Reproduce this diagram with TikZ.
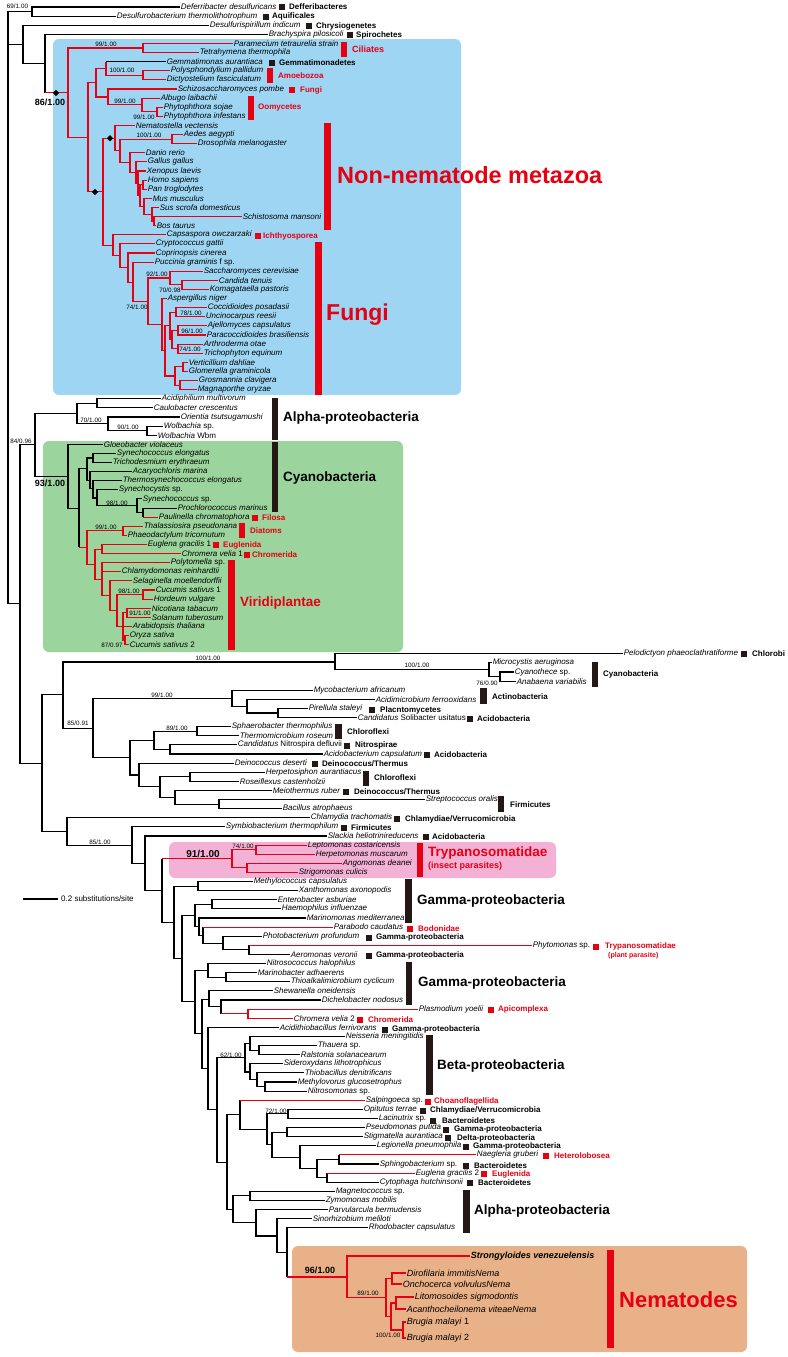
\documentclass[tikz,border=0pt]{standalone}
\usepackage{fontspec}
\setmainfont{Liberation Sans}
\usepackage{tikz}
\usetikzlibrary{shapes.geometric}

\definecolor{tred}{HTML}{E60012}
\definecolor{tblk}{HTML}{231815}
\definecolor{boxblue}{HTML}{9DD5F3}
\definecolor{boxgreen}{HTML}{9BD49C}
\definecolor{boxpink}{HTML}{F4B1D6}
\definecolor{boxtan}{HTML}{E9B187}

% black stem, red branch
\newcommand\rlink[2]{\draw[branch] (#1) -- (#1 |- #2); \draw[rbranch] (#1 |- #2) -- (#2);}

\begin{document}
\begin{tikzpicture}[
    x=1pt, y=-1pt,
    declare function={ly(\k)=7+9.11*\k;},
    branch/.style={draw=black, line width=1.1pt},
    rbranch/.style={draw=tred, line width=1.1pt},
    leaf/.style={anchor=west, inner sep=0.6pt, font=\fontsize{8}{9}\selectfont\itshape},
    nleaf/.style={leaf, font=\fontsize{9}{10}\selectfont\itshape},
    grp/.style={anchor=west, inner sep=0pt, font=\fontsize{8}{9}\selectfont\bfseries},
    rgrp/.style={grp, text=tred},
    clade/.style={anchor=west, inner sep=0pt, font=\fontsize{13.5}{15}\selectfont\bfseries},
    sq/.style={fill=tblk, minimum size=6pt, inner sep=0pt},
    rsq/.style={sq, fill=tred},
    boot/.style={inner sep=0pt, font=\fontsize{6.3}{7}\selectfont},
    bboot/.style={inner sep=0pt, font=\fontsize{9}{10}\selectfont\bfseries},
    dmd/.style={diamond, fill=black, inner sep=0pt, minimum size=6.5pt},
    panel/.style={rounded corners=6pt}
  ]
  \useasboundingbox (0,0) rectangle (787,1357);

  % shaded panels
  \fill[boxblue, panel] (53,39) rectangle (461,395);
  \fill[boxgreen, panel] (43,441) rectangle (403,652);
  \fill[boxpink, panel] (169,842) rectangle (556,878);
  \fill[boxtan, panel] (292,1246) rectangle (747,1352);

  % ---------- leaves ----------
  \node[leaf] (defe) at (180,{ly(0)}) {Deferribacter desulfuricans};
  \node[leaf] (dsrb) at (116,{ly(1)}) {Desulfurobacterium thermolithotrophum};
  \node[leaf] (dsrs) at (209,{ly(2)}) {Desulfurispirillum indicum};
  \node[leaf] (brac) at (268,{ly(3)}) {Brachyspira pilosicoli};
  \node[leaf] (para) at (233,{ly(4)}) {Paramecium tetraurelia strain};
  \node[leaf] (tetr) at (199,{ly(5)}) {Tetrahymena thermophila};
  \node[leaf] (gemm) at (166,{ly(6)}) {Gemmatimonas aurantiaca};
  \node[leaf] (poly) at (170,{ly(7)}) {Polysphondylium pallidum};
  \node[leaf] (dict) at (166,{ly(8)}) {Dictyostelium fasciculatum};
  \node[leaf] (schi) at (177,{ly(9)}) {Schizosaccharomyces pombe};
  \node[leaf] (albu) at (160,{ly(10)}) {Albugo laibachii};
  \node[leaf] (psoj) at (163,{ly(11)}) {Phytophthora sojae};
  \node[leaf] (pinf) at (163,{ly(12)}) {Phytophthora infestans};
  \node[leaf] (nema) at (135,{ly(13)}) {Nematostella vectensis};
  \node[leaf] (aede) at (183,{ly(14)}) {Aedes aegypti};
  \node[leaf] (dros) at (197,{ly(15)}) {Drosophila melanogaster};
  \node[leaf] (dani) at (145,{ly(16)}) {Danio rerio};
  \node[leaf] (gall) at (147,{ly(17)}) {Gallus gallus};
  \node[leaf] (xeno) at (146,{ly(18)}) {Xenopus laevis};
  \node[leaf] (homo) at (147,{ly(19)}) {Homo sapiens};
  \node[leaf] (pant) at (147,{ly(20)}) {Pan troglodytes};
  \node[leaf] (musm) at (152,{ly(21)}) {Mus musculus};
  \node[leaf] (suss) at (159,{ly(22)}) {Sus scrofa domesticus};
  \node[leaf] (schm) at (242,{ly(23)}) {Schistosoma mansoni};
  \node[leaf] (bost) at (156,{ly(24)}) {Bos taurus};
  \node[leaf] (caps) at (166,{ly(25)}) {Capsaspora owczarzaki};
  \node[leaf] (cryp) at (155,{ly(26)}) {Cryptococcus gattii};
  \node[leaf] (copr) at (155,{ly(27)}) {Coprinopsis cinerea};
  \node[leaf] (pucc) at (154,{ly(28)}) {Puccinia graminis \textup{f sp.}};
  \node[leaf] (sacc) at (203,{ly(29)}) {Saccharomyces cerevisiae};
  \node[leaf] (cand) at (218,{ly(30)}) {Candida tenuis};
  \node[leaf] (koma) at (209,{ly(31)}) {Komagataella pastoris};
  \node[leaf] (aspe) at (167,{ly(32)}) {Aspergillus niger};
  \node[leaf] (cocc) at (207,{ly(33)}) {Coccidioides posadasii};
  \node[leaf] (unci) at (205,{ly(34)}) {Uncinocarpus reesii};
  \node[leaf] (ajel) at (207,{ly(35)}) {Ajellomyces capsulatus};
  \node[leaf] (parc) at (206,{ly(36)}) {Paracoccidioides brasiliensis};
  \node[leaf] (arth) at (203,{ly(37)}) {Arthroderma otae};
  \node[leaf] (tric) at (203,{ly(38)}) {Trichophyton equinum};
  \node[leaf] (vert) at (188,{ly(39)}) {Verticillium dahliae};
  \node[leaf] (glom) at (188,{ly(40)}) {Glomerella graminicola};
  \node[leaf] (gros) at (198,{ly(41)}) {Grosmannia clavigera};
  \node[leaf] (magn) at (197,{ly(42)}) {Magnaporthe oryzae};
  \node[leaf] (acdp) at (161,{ly(43)}) {Acidiphilium multivorum};
  \node[leaf] (caul) at (153,{ly(44)}) {Caulobacter crescentus};
  \node[leaf] (orie) at (180,{ly(45)}) {Orientia tsutsugamushi};
  \node[leaf] (wolb) at (163,{ly(46)}) {Wolbachia \textup{sp.}};
  \node[leaf] (wolw) at (157,{ly(47)}) {Wolbachia \textup{Wbm}};
  \node[leaf] (gloe) at (103,{ly(48)}) {Gloeobacter violaceus};
  \node[leaf] (syel) at (116,{ly(49)}) {Synechococcus elongatus};
  \node[leaf] (tris) at (112,{ly(50)}) {Trichodesmium erythraeum};
  \node[leaf] (acar) at (132,{ly(51)}) {Acaryochloris marina};
  \node[leaf] (ther) at (122,{ly(52)}) {Thermosynechococcus elongatus};
  \node[leaf] (sycy) at (118,{ly(53)}) {Synechocystis \textup{sp.}};
  \node[leaf] (sysp) at (142,{ly(54)}) {Synechococcus \textup{sp.}};
  \node[leaf] (proc) at (177,{ly(55)}) {Prochlorococcus marinus};
  \node[leaf] (paul) at (158,{ly(56)}) {Paulinella chromatophora};
  \node[leaf] (thal) at (143,{ly(57)}) {Thalassiosira pseudonana};
  \node[leaf] (phae) at (127,{ly(58)}) {Phaeodactylum tricornutum};
  \node[leaf] (eug1) at (147,{ly(59)}) {Euglena gracilis \textup{1}};
  \node[leaf] (chr1) at (181,{ly(60)}) {Chromera velia \textup{1}};
  \node[leaf] (plyt) at (170,{ly(61)}) {Polytomella \textup{sp.}};
  \node[leaf] (chla) at (121,{ly(62)}) {Chlamydomonas reinhardtii};
  \node[leaf] (sela) at (132,{ly(63)}) {Selaginella moellendorffii};
  \node[leaf] (cuc1) at (155,{ly(64)}) {Cucumis sativus \textup{1}};
  \node[leaf] (hord) at (153,{ly(65)}) {Hordeum vulgare};
  \node[leaf] (nico) at (151,{ly(66)}) {Nicotiana tabacum};
  \node[leaf] (sola) at (151,{ly(67)}) {Solanum tuberosum};
  \node[leaf] (arab) at (132,{ly(68)}) {Arabidopsis thaliana};
  \node[leaf] (oryz) at (129,{ly(69)}) {Oryza sativa};
  \node[leaf] (cuc2) at (129,{ly(70)}) {Cucumis sativus \textup{2}};
  \node[leaf] (pelo) at (623,{ly(71)}) {Pelodictyon phaeoclathratiforme};
  \node[leaf] (micr) at (492,{ly(72)}) {Microcystis aeruginosa};
  \node[leaf] (cyth) at (514,{ly(73)}) {Cyanothece \textup{sp.}};
  \node[leaf] (anab) at (516,{ly(74)}) {Anabaena variabilis};
  \node[leaf] (myco) at (313,{ly(75)}) {Mycobacterium africanum};
  \node[leaf] (acdm) at (375,{ly(76)}) {Acidimicrobium ferrooxidans};
  \node[leaf] (pire) at (308,{ly(77)}) {Pirellula staleyi};
  \node[leaf] (soli) at (357,{ly(78)}) {Candidatus \textup{Solibacter usitatus}};
  \node[leaf] (spha) at (231,{ly(79)}) {Sphaerobacter thermophilus};
  \node[leaf] (thmi) at (239,{ly(80)}) {Thermomicrobium roseum};
  \node[leaf] (nitr) at (237,{ly(81)}) {Candidatus \textup{Nitrospira defluvii}};
  \node[leaf] (acbc) at (323,{ly(82)}) {Acidobacterium capsulatum};
  \node[leaf] (dein) at (234,{ly(83)}) {Deinococcus deserti};
  \node[leaf] (herp) at (265,{ly(84)}) {Herpetosiphon aurantiacus};
  \node[leaf] (rose) at (239,{ly(85)}) {Roseiflexus castenholzii};
  \node[leaf] (meio) at (272,{ly(86)}) {Meiothermus ruber};
  \node[leaf] (stre) at (425,{ly(87)}) {Streptococcus oralis};
  \node[leaf] (baci) at (282,{ly(88)}) {Bacillus atrophaeus};
  \node[leaf] (chlt) at (310,{ly(89)}) {Chlamydia trachomatis};
  \node[leaf] (symb) at (225,{ly(90)}) {Symbiobacterium thermophilum};
  \node[leaf] (slac) at (327,{ly(91)}) {Slackia heliotrinireducens};
  \node[leaf] (lept) at (307,{ly(92)}) {Leptomonas costaricensis};
  \node[leaf] (hrpm) at (315,{ly(93)}) {Herpetomonas muscarum};
  \node[leaf] (ango) at (342,{ly(94)}) {Angomonas deanei};
  \node[leaf] (stri) at (298,{ly(95)}) {Strigomonas culicis};
  \node[leaf] (mtcc) at (253,{ly(96)}) {Methylococcus capsulatus};
  \node[leaf] (xant) at (298,{ly(97)}) {Xanthomonas axonopodis};
  \node[leaf] (ente) at (277,{ly(98)}) {Enterobacter asburiae};
  \node[leaf] (haem) at (281,{ly(99)}) {Haemophilus influenzae};
  \node[leaf] (mari) at (306,{ly(100)}) {Marinomonas mediterranea};
  \node[leaf] (parb) at (333,{ly(101)}) {Parabodo caudatus};
  \node[leaf] (phot) at (262,{ly(102)}) {Photobacterium profundum};
  \node[leaf] (phyt) at (532,{ly(103)}) {Phytomonas \textup{sp.}};
  \node[leaf] (aero) at (290,{ly(104)}) {Aeromonas veronii};
  \node[leaf] (ntcc) at (266,{ly(105)}) {Nitrosococcus halophilus};
  \node[leaf] (mrnb) at (257,{ly(106)}) {Marinobacter adhaerens};
  \node[leaf] (thio) at (290,{ly(107)}) {Thioalkalimicrobium cyclicum};
  \node[leaf] (shew) at (273,{ly(108)}) {Shewanella oneidensis};
  \node[leaf] (dich) at (321,{ly(109)}) {Dichelobacter nodosus};
  \node[leaf] (plas) at (418,{ly(110)}) {Plasmodium yoelii};
  \node[leaf] (chr2) at (293,{ly(111)}) {Chromera velia \textup{2}};
  \node[leaf] (acth) at (279,{ly(112)}) {Acidithiobacillus ferrivorans};
  \node[leaf] (neis) at (345,{ly(113)}) {Neisseria meningitidis};
  \node[leaf] (thau) at (317,{ly(114)}) {Thauera \textup{sp.}};
  \node[leaf] (rals) at (300,{ly(115)}) {Ralstonia solanacearum};
  \node[leaf] (side) at (283,{ly(116)}) {Sideroxydans lithotrophicus};
  \node[leaf] (thbc) at (304,{ly(117)}) {Thiobacillus denitrificans};
  \node[leaf] (mtvr) at (297,{ly(118)}) {Methylovorus glucosetrophus};
  \node[leaf] (ntsm) at (307,{ly(119)}) {Nitrosomonas \textup{sp.}};
  \node[leaf] (salp) at (365,{ly(120)}) {Salpingoeca \textup{sp.}};
  \node[leaf] (opit) at (363,{ly(121)}) {Opitutus terrae};
  \node[leaf] (laci) at (378,{ly(122)}) {Lacinutrix \textup{sp.}};
  \node[leaf] (pseu) at (365,{ly(123)}) {Pseudomonas putida};
  \node[leaf] (stig) at (363,{ly(124)}) {Stigmatella aurantiaca};
  \node[leaf] (legi) at (376,{ly(125)}) {Legionella pneumophila};
  \node[leaf] (naeg) at (476,{ly(126)}) {Naegleria gruberi};
  \node[leaf] (sphi) at (379,{ly(127)}) {Sphingobacterium \textup{sp.}};
  \node[leaf] (eug2) at (415,{ly(128)}) {Euglena gracilis \textup{2}};
  \node[leaf] (cyto) at (379,{ly(129)}) {Cytophaga hutchinsonii};
  \node[leaf] (magt) at (335,{ly(130)}) {Magnetococcus \textup{sp.}};
  \node[leaf] (zymo) at (325,{ly(131)}) {Zymomonas mobilis};
  \node[leaf] (parv) at (328,{ly(132)}) {Parvularcula bermudensis};
  \node[leaf] (sino) at (312,{ly(133)}) {Sinorhizobium meliloti};
  \node[leaf] (rhod) at (368,{ly(134)}) {Rhodobacter capsulatus};
  \node[nleaf, font=\fontsize{9}{10}\selectfont\bfseries\itshape] (stro) at (470,1256) {Strongyloides venezuelensis};
  \node[nleaf] (diro) at (406,1273) {Dirofilaria immitisNema};
  \node[nleaf] (onch) at (402,1284) {Onchocerca volvulusNema};
  \node[nleaf] (lito) at (414,1297) {Litomosoides sigmodontis};
  \node[nleaf] (acan) at (406,1309) {Acanthocheilonema viteaeNema};
  \node[nleaf] (bru1) at (406,1322) {Brugia malayi \textup{1}};
  \node[nleaf] (bru2) at (406,1338) {Brugia malayi \textup{2}};

  % ---------- internal nodes ----------
  \coordinate (root) at (8,{ly(30)});
  \coordinate (nA) at (32,{ly(0.5)});
  \coordinate (n23) at (23,{ly(4.1)});
  \coordinate (n45) at (45,{ly(6.2)});
  \coordinate (n20) at (20,{ly(65.5)});
  \coordinate (R) at (68,{ly(9.4)});
  \coordinate (cil) at (143,{ly(4.5)});
  \coordinate (B) at (88,{ly(14.3)});
  \coordinate (C) at (96,{ly(8.3)});
  \coordinate (n106) at (106,{ly(6.75)});
  \coordinate (amo) at (143,{ly(7.5)});
  \coordinate (n108) at (108,{ly(9.875)});
  \coordinate (oom) at (142,{ly(10.75)});
  \coordinate (phy) at (157,{ly(11.5)});
  \coordinate (D) at (103,{ly(20.3)});
  \coordinate (M) at (115,{ly(14.4)});
  \coordinate (n120) at (120,{ly(15.8)});
  \coordinate (ad) at (172,{ly(14.5)});
  \coordinate (v130) at (130,{ly(17.09)});
  \coordinate (v136) at (136,{ly(18.17)});
  \coordinate (v138) at (138,{ly(19.34)});
  \coordinate (v140) at (140,{ly(20.69)});
  \coordinate (hp) at (143,{ly(19.5)});
  \coordinate (v144) at (144,{ly(21.875)});
  \coordinate (v152) at (152,{ly(22.75)});
  \coordinate (v154) at (154,{ly(23.5)});
  \coordinate (F) at (113,{ly(26.15)});
  \coordinate (f120) at (120,{ly(27.3)});
  \coordinate (f128) at (128,{ly(28.6)});
  \coordinate (f133) at (133,{ly(30.2)});
  \coordinate (f148) at (148,{ly(32.3)});
  \coordinate (sac) at (170,{ly(29.75)});
  \coordinate (ck) at (182,{ly(30.5)});
  \coordinate (f162) at (162,{ly(34.9)});
  \coordinate (f165) at (165,{ly(37.75)});
  \coordinate (e1) at (170,{ly(35)});
  \coordinate (c78) at (176,{ly(33.5)});
  \coordinate (e2) at (172,{ly(36.5)});
  \coordinate (c96) at (178,{ly(35.5)});
  \coordinate (c74) at (178,{ly(37.5)});
  \coordinate (srd) at (175,{ly(40.5)});
  \coordinate (vg) at (183,{ly(39.5)});
  \coordinate (gm) at (180,{ly(41.5)});
  \coordinate (n35) at (35,{ly(48.05)});
  \coordinate (al) at (77,{ly(44.6)});
  \coordinate (ac) at (97,{ly(43.5)});
  \coordinate (ow) at (108,{ly(45.75)});
  \coordinate (wo) at (147,{ly(46.5)});
  \coordinate (cy) at (68,{ly(51.5)});
  \coordinate (c79) at (79,{ly(55)});
  \coordinate (K) at (87,{ly(50.7)});
  \coordinate (se) at (93,{ly(49.5)});
  \coordinate (k2) at (90,{ly(52)});
  \coordinate (k3) at (93,{ly(52.9)});
  \coordinate (k4) at (97,{ly(53.9)});
  \coordinate (k5) at (137,{ly(54.75)});
  \coordinate (pp) at (143,{ly(55.5)});
  \coordinate (P) at (87,{ly(59.3)});
  \coordinate (dia) at (123,{ly(57.5)});
  \coordinate (ecv) at (95,{ly(61.2)});
  \coordinate (ec) at (102,{ly(59.5)});
  \coordinate (V) at (102,{ly(62.8)});
  \coordinate (v2) at (110,{ly(64.6)});
  \coordinate (v3) at (117,{ly(66.25)});
  \coordinate (ch) at (143,{ly(64.5)});
  \coordinate (v4) at (123,{ly(68)});
  \coordinate (ns) at (127,{ly(66.5)});
  \coordinate (oc) at (125,{ly(69.5)});
  \coordinate (n42) at (42,{ly(83)});
  \coordinate (n63) at (63,{ly(75.5)});
  \coordinate (chl) at (335,{ly(71.9)});
  \coordinate (cyn) at (489,{ly(72.75)});
  \coordinate (ca) at (500,{ly(73.5)});
  \coordinate (n93) at (93,{ly(79.15)});
  \coordinate (act) at (232,{ly(75.9)});
  \coordinate (a247) at (247,{ly(76.75)});
  \coordinate (ps) at (278,{ly(77.5)});
  \coordinate (w130) at (130,{ly(82.4)});
  \coordinate (cn) at (154,{ly(80.5)});
  \coordinate (c89) at (197,{ly(79.5)});
  \coordinate (na) at (170,{ly(81.5)});
  \coordinate (dt) at (139,{ly(84.3)});
  \coordinate (hr) at (160,{ly(85.6)});
  \coordinate (hr2) at (190,{ly(84.5)});
  \coordinate (mb) at (175,{ly(86.75)});
  \coordinate (sb) at (219,{ly(87.5)});
  \coordinate (n67) at (67,{ly(90.5)});
  \coordinate (n132) at (132,{ly(92)});
  \coordinate (n145) at (145,{ly(94)});
  \coordinate (n162) at (162,{ly(97)});
  \coordinate (tr) at (232,{ly(93.5)});
  \coordinate (t256) at (256,{ly(92.5)});
  \coordinate (t247) at (247,{ly(94.5)});
  \coordinate (n174) at (174,{ly(100.5)});
  \coordinate (mx) at (198,{ly(96.5)});
  \coordinate (n182) at (182,{ly(104.45)});
  \coordinate (ent) at (195,{ly(99.7)});
  \coordinate (eh) at (212,{ly(98.5)});
  \coordinate (mar) at (199,{ly(100.9)});
  \coordinate (prb) at (203,{ly(101.9)});
  \coordinate (pho) at (223,{ly(102.75)});
  \coordinate (pa) at (249,{ly(103.5)});
  \coordinate (n195) at (195,{ly(109.2)});
  \coordinate (nmt) at (208,{ly(105.75)});
  \coordinate (mt) at (226,{ly(106.5)});
  \coordinate (n202) at (202,{ly(112.7)});
  \coordinate (shw) at (209,{ly(108.9)});
  \coordinate (dpc) at (221,{ly(109.75)});
  \coordinate (pc) at (248,{ly(110.5)});
  \coordinate (n208) at (208,{ly(116.5)});
  \coordinate (n217) at (217,{ly(121.05)});
  \coordinate (beta) at (245,{ly(115.3)});
  \coordinate (ntr) at (250,{ly(113.75)});
  \coordinate (tr2) at (259,{ly(114.5)});
  \coordinate (stmn) at (250,{ly(116.9)});
  \coordinate (tmn) at (257,{ly(117.75)});
  \coordinate (mn) at (265,{ly(118.5)});
  \coordinate (n227) at (227,{ly(126.8)});
  \coordinate (n240) at (240,{ly(121.6)});
  \coordinate (n267) at (267,{ly(123.2)});
  \coordinate (ol) at (288,{ly(121.5)});
  \coordinate (n272) at (272,{ly(124.9)});
  \coordinate (psst) at (287,{ly(123.5)});
  \coordinate (leg) at (300,{ly(126.25)});
  \coordinate (nsec) at (317,{ly(127.5)});
  \coordinate (nsp) at (339,{ly(126.5)});
  \coordinate (ec2) at (327,{ly(128.5)});
  \coordinate (alb) at (233,{ly(131.97)});
  \coordinate (mz) at (250,{ly(130.5)});
  \coordinate (psr) at (256,{ly(133.4)});
  \coordinate (srn) at (277,{ly(134.9)});
  \coordinate (rn) at (287,{ly(136.7)});
  \coordinate (nem) at (347,1277);
  \coordinate (f89) at (386,1297.5);
  \coordinate (dir) at (392,1278.5);
  \coordinate (f2) at (391,1316.5);
  \coordinate (lit) at (396,1303);
  \coordinate (bru) at (403,1330);

  % ---------- branches ----------
  \draw[branch] (root) |- (nA) (root) |- (n23) (root) |- (n20);
  \draw[branch] (nA) |- (defe) (nA) |- (dsrb);
  \draw[branch] (n23) |- (dsrs) (n23) |- (n45);
  \draw[branch] (n45) |- (brac);
  \rlink{n45}{R}
  \draw[rbranch] (R) |- (cil) (R) |- (B);
  \draw[rbranch] (cil) |- (para) (cil) |- (tetr);
  \draw[rbranch] (B) |- (C) (B) |- (D);
  \draw[rbranch] (C) |- (n106) (C) |- (n108);
  \draw[rbranch] (n106) -- (n106 |- gemm);
  \draw[branch] (n106 |- gemm) -- (gemm);
  \draw[rbranch] (n106) |- (amo);
  \draw[rbranch] (amo) |- (poly) (amo) |- (dict);
  \draw[rbranch] (n108) |- (schi) (n108) |- (oom);
  \draw[rbranch] (oom) |- (albu) (oom) |- (phy);
  \draw[rbranch] (phy) |- (psoj) (phy) |- (pinf);
  \draw[rbranch] (D) |- (M) (D) |- (F);
  \draw[rbranch] (M) |- (nema) (M) |- (n120);
  \draw[rbranch] (n120) |- (ad) (n120) |- (v130);
  \draw[rbranch] (ad) |- (aede) (ad) |- (dros);
  \draw[rbranch] (v130) |- (dani) (v130) |- (v136);
  \draw[rbranch] (v136) |- (gall) (v136) |- (v138);
  \draw[rbranch] (v138) |- (xeno) (v138) |- (v140);
  \draw[rbranch] (v140) |- (hp) (v140) |- (v144);
  \draw[rbranch] (hp) |- (homo) (hp) |- (pant);
  \draw[rbranch] (v144) |- (musm) (v144) |- (v152);
  \draw[rbranch] (v152) |- (suss) (v152) |- (v154);
  \draw[rbranch] (v154) |- (schm) (v154) |- (bost);
  \draw[rbranch] (F) |- (caps) (F) |- (f120);
  \draw[rbranch] (f120) |- (cryp) (f120) |- (f128);
  \draw[rbranch] (f128) |- (copr) (f128) |- (f133);
  \draw[rbranch] (f133) |- (pucc) (f133) |- (f148);
  \draw[rbranch] (f148) |- (sac) (f148) |- (f162);
  \draw[rbranch] (sac) |- (sacc) (sac) |- (ck);
  \draw[rbranch] (ck) |- (cand) (ck) |- (koma);
  \draw[rbranch] (f162) |- (aspe) (f162) |- (f165);
  \draw[rbranch] (f165) |- (e1) (f165) |- (srd);
  \draw[rbranch] (e1) |- (c78) (e1) |- (e2);
  \draw[rbranch] (c78) |- (cocc) (c78) |- (unci);
  \draw[rbranch] (e2) |- (c96) (e2) |- (c74);
  \draw[rbranch] (c96) |- (ajel) (c96) |- (parc);
  \draw[rbranch] (c74) |- (arth) (c74) |- (tric);
  \draw[rbranch] (srd) |- (vg) (srd) |- (gm);
  \draw[rbranch] (vg) |- (vert) (vg) |- (glom);
  \draw[rbranch] (gm) |- (gros) (gm) |- (magn);

  \draw[branch] (n20) |- (n35) (n20) |- (n42);
  \draw[branch] (n35) |- (al) (n35) |- (cy);
  \draw[branch] (al) |- (ac) (al) |- (ow);
  \draw[branch] (ac) |- (acdp) (ac) |- (caul);
  \draw[branch] (ow) |- (orie) (ow) |- (wo);
  \draw[branch] (wo) |- (wolb) (wo) |- (wolw);
  \draw[branch] (cy) |- (gloe) (cy) |- (c79);
  \draw[branch] (c79) |- (K);
  \rlink{c79}{P}
  \draw[branch] (K) |- (se) (K) |- (k2);
  \draw[branch] (se) |- (syel) (se) |- (tris);
  \draw[branch] (k2) |- (acar) (k2) |- (k3);
  \draw[branch] (k3) |- (ther) (k3) |- (k4);
  \draw[branch] (k4) |- (sycy) (k4) |- (k5);
  \draw[branch] (k5) |- (sysp) (k5) |- (pp);
  \draw[branch] (pp) |- (proc);
  \rlink{pp}{paul}
  \draw[rbranch] (P) |- (dia) (P) |- (ecv);
  \draw[rbranch] (dia) |- (thal) (dia) |- (phae);
  \draw[rbranch] (ecv) |- (ec) (ecv) |- (V);
  \draw[rbranch] (ec) |- (eug1) (ec) |- (chr1);
  \draw[rbranch] (V) |- (plyt) (V) |- (chla) (V) |- (v2);
  \draw[rbranch] (v2) |- (sela) (v2) |- (v3);
  \draw[rbranch] (v3) |- (ch) (v3) |- (v4);
  \draw[rbranch] (ch) |- (cuc1) (ch) |- (hord);
  \draw[rbranch] (v4) |- (ns) (v4) |- (arab) (v4) |- (oc);
  \draw[rbranch] (ns) |- (nico) (ns) |- (sola);
  \draw[rbranch] (oc) |- (oryz) (oc) |- (cuc2);

  \draw[branch] (n42) |- (n63) (n42) |- (n67);
  \draw[branch] (n63) |- (chl) (n63) |- (n93);
  \draw[branch] (chl) |- (pelo) (chl) |- (cyn);
  \draw[branch] (cyn) |- (micr) (cyn) |- (ca);
  \draw[branch] (ca) |- (cyth) (ca) |- (anab);
  \draw[branch] (n93) |- (act) (n93) |- (w130);
  \draw[branch] (act) |- (myco) (act) |- (a247);
  \draw[branch] (a247) |- (acdm) (a247) |- (ps);
  \draw[branch] (ps) |- (pire) (ps) |- (soli);
  \draw[branch] (w130) |- (cn) (w130) |- (dt);
  \draw[branch] (cn) |- (c89) (cn) |- (na);
  \draw[branch] (c89) |- (spha) (c89) |- (thmi);
  \draw[branch] (na) |- (nitr) (na) |- (acbc);
  \draw[branch] (dt) |- (dein) (dt) |- (hr);
  \draw[branch] (hr) |- (hr2) (hr) |- (mb);
  \draw[branch] (hr2) |- (herp) (hr2) |- (rose);
  \draw[branch] (mb) |- (meio) (mb) |- (sb);
  \draw[branch] (sb) |- (stre) (sb) |- (baci);
  \draw[branch] (n67) |- (chlt) (n67) |- (n132);
  \draw[branch] (n132) |- (symb) (n132) |- (n145);
  \draw[branch] (n145) |- (slac) (n145) |- (n162);
  \rlink{n162}{tr}
  \draw[branch] (n162) |- (n174);
  \draw[rbranch] (tr) |- (t256) (tr) |- (t247);
  \draw[rbranch] (t256) |- (lept) (t256) |- (hrpm);
  \draw[rbranch] (t247) |- (ango) (t247) |- (stri);
  \draw[branch] (n174) |- (mx) (n174) |- (n182);
  \draw[branch] (mx) |- (mtcc) (mx) |- (xant);
  \draw[branch] (n182) |- (ent) (n182) |- (n195);
  \draw[branch] (ent) |- (eh) (ent) |- (mar);
  \draw[branch] (eh) |- (ente) (eh) |- (haem);
  \draw[branch] (mar) |- (mari) (mar) |- (prb);
  \rlink{prb}{parb}
  \draw[branch] (prb) |- (pho);
  \draw[branch] (pho) |- (phot) (pho) |- (pa);
  \rlink{pa}{phyt}
  \draw[branch] (pa) |- (aero);
  \draw[branch] (n195) |- (nmt) (n195) |- (n202);
  \draw[branch] (nmt) |- (ntcc) (nmt) |- (mt);
  \draw[branch] (mt) |- (mrnb) (mt) |- (thio);
  \draw[branch] (n202) |- (shw) (n202) |- (n208);
  \draw[branch] (shw) |- (shew) (shw) |- (dpc);
  \draw[branch] (dpc) |- (dich);
  \rlink{dpc}{pc}
  \draw[rbranch] (pc) |- (plas) (pc) |- (chr2);
  \draw[branch] (n208) |- (acth) (n208) |- (n217);
  \draw[branch] (n217) |- (beta) (n217) |- (n227);
  \draw[branch] (beta) |- (ntr) (beta) |- (stmn);
  \draw[branch] (ntr) |- (neis) (ntr) |- (tr2);
  \draw[branch] (tr2) |- (thau) (tr2) |- (rals);
  \draw[branch] (stmn) |- (side) (stmn) |- (tmn);
  \draw[branch] (tmn) |- (thbc) (tmn) |- (mn);
  \draw[branch] (mn) |- (mtvr) (mn) |- (ntsm);
  \draw[branch] (n227) |- (n240) (n227) |- (alb);
  \rlink{n240}{salp}
  \draw[branch] (n240) |- (n267);
  \draw[branch] (n267) |- (ol) (n267) |- (n272);
  \draw[branch] (ol) |- (opit) (ol) |- (laci);
  \draw[branch] (n272) |- (psst) (n272) |- (leg);
  \draw[branch] (psst) |- (pseu) (psst) |- (stig);
  \draw[branch] (leg) |- (legi) (leg) |- (nsec);
  \draw[branch] (nsec) |- (nsp) (nsec) |- (ec2);
  \rlink{nsp}{naeg}
  \draw[branch] (nsp) |- (sphi);
  \rlink{ec2}{eug2}
  \draw[branch] (ec2) |- (cyto);
  \draw[branch] (alb) |- (mz) (alb) |- (psr);
  \draw[branch] (mz) |- (magt) (mz) |- (zymo);
  \draw[branch] (psr) |- (parv) (psr) |- (srn);
  \draw[branch] (srn) |- (sino) (srn) |- (rn);
  \draw[branch] (rn) |- (rhod);
  \rlink{rn}{nem}
  \draw[rbranch] (nem) |- (stro) (nem) |- (f89);
  \draw[rbranch] (f89) |- (dir) (f89) |- (f2);
  \draw[rbranch] (dir) |- (diro) (dir) |- (onch);
  \draw[rbranch] (f2) |- (lit) (f2) |- (bru);
  \draw[rbranch] (lit) |- (lito) (lit) |- (acan);
  \draw[rbranch] (bru) |- (bru1) (bru) |- (bru2);

  % collapsed-node marks
  \node[dmd] (dm1) at (56,93) {};
  \node[dmd] (dm2) at (110,{ly(14.4)}) {};
  \node[dmd] (dm3) at (95,{ly(20.3)}) {};

  % ---------- support values ----------
  \node[boot] (s1) at (17.5,6.5) {69/1.00};
  \node[boot] (s2) at (106,44) {99/1.00};
  \node[boot] (s3) at (122,70) {100/1.00};
  \node[boot] (s4) at (125,101) {99/1.00};
  \node[boot] (s5) at (144,117) {99/1.00};
  \node[boot] (s6) at (149,135) {100/1.00};
  \node[boot] (s7) at (157,274) {92/1.00};
  \node[boot] (s8) at (170,290) {70/0.98};
  \node[boot] (s9) at (137,307) {74/1.00};
  \node[boot] (s10) at (191,313) {78/1.00};
  \node[boot] (s11) at (192,331) {96/1.00};
  \node[boot] (s12) at (190,349) {74/1.00};
  \node[boot] (s13) at (91,420) {70/1.00};
  \node[boot] (s14) at (128,427) {90/1.00};
  \node[boot] (s15) at (21,441) {84/0.96};
  \node[boot] (s16) at (117,503) {98/1.00};
  \node[boot] (s17) at (106,527) {99/1.00};
  \node[boot] (s18) at (129,591) {98/1.00};
  \node[boot] (s19) at (140,613) {91/1.00};
  \node[boot] (s20) at (112,645) {87/0.97};
  \node[boot] (s21) at (208,658) {100/1.00};
  \node[boot] (s22) at (417,665) {100/1.00};
  \node[boot] (s23) at (487,683) {76/0.90};
  \node[boot] (s24) at (162,695) {99/1.00};
  \node[boot] (s25) at (78,723) {85/0.91};
  \node[boot] (s26) at (177,728) {89/1.00};
  \node[boot] (s27) at (100,842) {85/1.00};
  \node[boot] (s28) at (243,846) {74/1.00};
  \node[boot] (s29) at (231,1055) {62/1.00};
  \node[boot] (s30) at (276,1111) {72/1.00};
  \node[boot] (s31) at (368,1293) {89/1.00};
  \node[boot] (s32) at (388,1335) {100/1.00};
  \node[bboot] (b1) at (50,102) {86/1.00};
  \node[bboot] (b2) at (50,483) {93/1.00};
  \node[bboot, font=\fontsize{10}{11}\selectfont\bfseries] (b3) at (203,854) {91/1.00};
  \node[bboot] (b4) at (320,1270.5) {96/1.00};

  % ---------- group bars and labels ----------
  \node[sq] (q1) at (282,7) {};
  \node[grp] (g1) at (289,7) {Defferibacteres};
  \node[sq] (q2) at (266,16.5) {};
  \node[grp] (g2) at (272,16.5) {Aquificales};
  \node[sq] (q3) at (309,26) {};
  \node[grp] (g3) at (316,26) {Chrysiogenetes};
  \node[sq] (q4) at (350,35) {};
  \node[grp] (g4) at (356,35) {Spirochetes};
  \fill[tred] (341,42) rectangle (347,57);
  \node[rgrp, font=\fontsize{9}{10}\selectfont\bfseries] (g5) at (352,49) {Ciliates};
  \node[sq] (q6) at (272,63) {};
  \node[grp] (g6) at (279,63) {Gemmatimonadetes};
  \fill[tred] (267,68) rectangle (273,83);
  \node[rgrp] (g7) at (278,76) {Amoebozoa};
  \node[rsq] (q8) at (292,90) {};
  \node[rgrp] (g8) at (300,90) {Fungi};
  \fill[tred] (248,96) rectangle (254,120);
  \node[rgrp] (g9) at (258,108) {Oomycetes};
  \fill[tred] (324,123) rectangle (331,230);
  \node[rgrp, font=\fontsize{23.5}{26}\selectfont\bfseries] (g10) at (337,175) {Non-nematode metazoa};
  \node[rsq] (q11) at (258,236) {};
  \node[rgrp] (g11) at (263,236) {Ichthyosporea};
  \fill[tred] (315,242) rectangle (322,395);
  \node[rgrp, font=\fontsize{23}{26}\selectfont\bfseries] (g12) at (326,315) {Fungi};
  \fill[tblk] (272,398) rectangle (278,440);
  \node[clade] (g13) at (283,418) {Alpha-proteobacteria};
  \fill[tblk] (272,442) rectangle (278,512);
  \node[clade] (g14) at (283,478) {Cyanobacteria};
  \node[rsq] (q15) at (255,518) {};
  \node[rgrp] (g15) at (262,518) {Filosa};
  \fill[tred] (239,523) rectangle (245,538);
  \node[rgrp] (g16) at (250,531) {Diatoms};
  \node[rsq] (q17) at (216,545) {};
  \node[rgrp] (g17) at (223,545) {Euglenida};
  \node[rsq] (q18) at (247,555) {};
  \node[rgrp] (g18) at (252,555) {Chromerida};
  \fill[tred] (228,560) rectangle (235,650);
  \node[clade, text=tred] (g19) at (240,603) {Viridiplantae};
  \node[sq] (q20) at (744,654) {};
  \node[grp] (g20) at (752,654) {Chlorobi};
  \fill[tblk] (592,662) rectangle (598,687);
  \node[grp] (g21) at (603,674) {Cyanobacteria};
  \fill[tblk] (480,688) rectangle (487,704);
  \node[grp] (g22) at (492,697) {Actinobacteria};
  \node[sq] (q23) at (372,710) {};
  \node[grp] (g23) at (380,710) {Placntomycetes};
  \node[sq] (q24) at (470,718.5) {};
  \node[grp] (g24) at (477,718.5) {Acidobacteria};
  \fill[tblk] (335,724) rectangle (342,739);
  \node[grp] (g25) at (347,732) {Chloroflexi};
  \node[sq] (q26) at (347,745.5) {};
  \node[grp] (g26) at (355,745.5) {Nitrospirae};
  \node[sq] (q27) at (427,755) {};
  \node[grp] (g27) at (434,755) {Acidobacteria};
  \node[sq] (q28) at (315,764) {};
  \node[grp] (g28) at (322,764) {Deinococcus/Thermus};
  \fill[tblk] (363,771) rectangle (369,786);
  \node[grp] (g29) at (374,778) {Chloroflexi};
  \node[sq] (q30) at (346,791.5) {};
  \node[grp] (g30) at (354,791.5) {Deinococcus/Thermus};
  \fill[tblk] (498,796) rectangle (504,812);
  \node[grp] (g31) at (510,805) {Firmicutes};
  \node[sq] (q32) at (397,819) {};
  \node[grp] (g32) at (405,819) {Chlamydiae/Verrucomicrobia};
  \node[sq] (q33) at (344,828) {};
  \node[grp] (g33) at (351,828) {Firmicutes};
  \node[sq] (q34) at (426,837) {};
  \node[grp] (g34) at (432,837) {Acidobacteria};
  \fill[tred] (417,843) rectangle (423,877);
  \node[clade, text=tred] (g35) at (428,853) {Trypanosomatidae};
  \node[rgrp, font=\fontsize{9}{10}\selectfont\bfseries] (g36) at (428,866.5) {(insect parasites)};
  \fill[tblk] (405,879) rectangle (412,923);
  \node[clade] (g37) at (417,901) {Gamma-proteobacteria};
  \node[rsq] (q38) at (410,928.5) {};
  \node[rgrp] (g38) at (418,928.5) {Bodonidae};
  \node[sq] (q39) at (369,937.5) {};
  \node[grp] (g39) at (376,937.5) {Gamma-proteobacteria};
  \node[rsq] (q40) at (596,946.5) {};
  \node[rgrp] (g40) at (605,946) {Trypanosomatidae};
  \node[rgrp, font=\fontsize{7}{8}\selectfont\bfseries] (g41) at (608,955.5) {(plant parasite)};
  \node[sq] (q42) at (369,955.5) {};
  \node[grp] (g42) at (376,955.5) {Gamma-proteobacteria};
  \fill[tblk] (406,962) rectangle (412,1005);
  \node[clade] (g43) at (418,983) {Gamma-proteobacteria};
  \node[rsq] (q44) at (491,1009.5) {};
  \node[rgrp] (g44) at (498,1009.5) {Apicomplexa};
  \node[rsq] (q45) at (360,1019.5) {};
  \node[rgrp] (g45) at (368,1019.5) {Chromerida};
  \node[sq] (q46) at (385,1029.5) {};
  \node[grp] (g46) at (392,1029.5) {Gamma-proteobacteria};
  \fill[tblk] (426,1035) rectangle (433,1095);
  \node[clade] (g47) at (437,1066) {Beta-proteobacteria};
  \node[rsq] (q48) at (427.5,1101.5) {};
  \node[rgrp] (g48) at (434,1101.5) {Choanoflagellida};
  \node[sq] (q49) at (423,1110.5) {};
  \node[grp] (g49) at (430,1110.5) {Chlamydiae/Verrucomicrobia};
  \node[sq] (q50) at (433,1120.5) {};
  \node[grp] (g50) at (442,1120.5) {Bacteroidetes};
  \node[sq] (q51) at (446,1129.5) {};
  \node[grp] (g51) at (454,1129.5) {Gamma-proteobacteria};
  \node[sq] (q52) at (447.5,1138) {};
  \node[grp] (g52) at (457,1138) {Delta-proteobacteria};
  \node[sq] (q53) at (466,1146.5) {};
  \node[grp] (g53) at (473,1146.5) {Gamma-proteobacteria};
  \node[rsq] (q54) at (546,1156) {};
  \node[rgrp] (g54) at (554,1156) {Heterolobosea};
  \node[sq] (q55) at (466,1165.5) {};
  \node[grp] (g55) at (474,1165.5) {Bacteroidetes};
  \node[rsq] (q56) at (484,1174) {};
  \node[rgrp] (g56) at (492,1174) {Euglenida};
  \node[sq] (q57) at (470,1183) {};
  \node[grp] (g57) at (478,1183) {Bacteroidetes};
  \fill[tblk] (463,1190) rectangle (470,1233);
  \node[clade] (g58) at (474,1211) {Alpha-proteobacteria};
  \fill[tred] (607,1250) rectangle (614,1348);
  \node[rgrp, font=\fontsize{22}{25}\selectfont\bfseries] (g59) at (619,1300) {Nematodes};

  % scale bar
  \coordinate (sbl) at (23,899);
  \coordinate (sbr) at (58,899);
  \draw[branch] (sbl) -- (sbr);
  \node[anchor=west, inner sep=0pt, font=\fontsize{8}{9}\selectfont] (sbt) at (61,899) {0.2 substitutions/site};
\end{tikzpicture}
\end{document}
